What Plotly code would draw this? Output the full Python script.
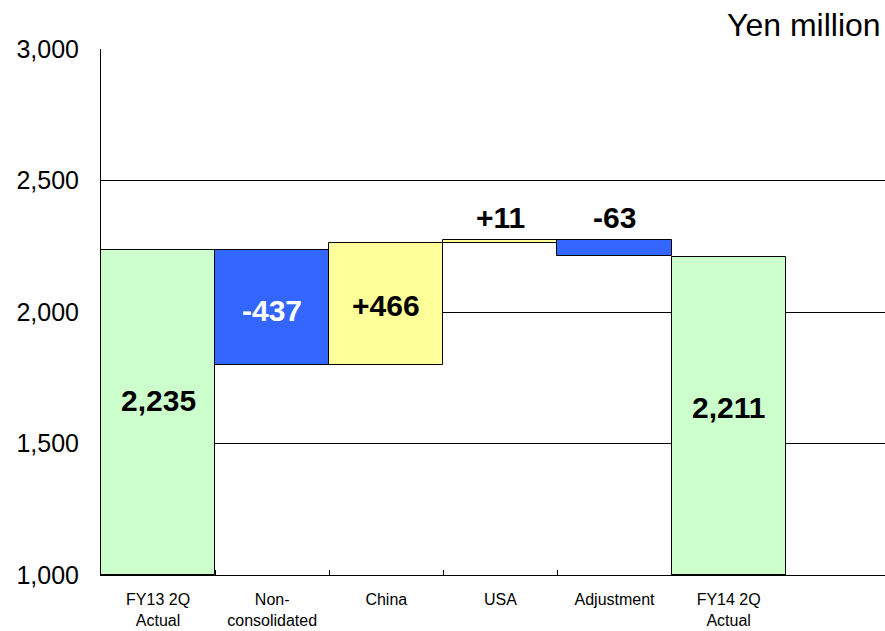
import plotly.graph_objects as go

# ---- data ----
categories = ["FY13 2Q<br>Actual", "Non-<br>consolidated", "China", "USA", "Adjustment", "FY14 2Q<br>Actual"]
start_total = 2235
deltas = [-437, 466, 11, -63]
end_total = 2211
value_labels = ["2,235", "-437", "+466", "+11", "-63", "2,211"]
y_ticks = [1000, 1500, 2000, 2500, 3000]
y_tick_text = ["1,000", "1,500", "2,000", "2,500", "3,000"]
unit_label = "Yen million"

# ---- build floating bars ----
bases, heights = [1000], [start_total - 1000]
running = start_total
for d in deltas:
    nxt = running + d
    bases.append(min(running, nxt))
    heights.append(abs(d))
    running = nxt
bases.append(1000)
heights.append(end_total - 1000)

GREEN, BLUE, YELLOW = "#CCFFCC", "#3366FF", "#FFFF99"
colors = [GREEN] + [BLUE if d < 0 else YELLOW for d in deltas] + [GREEN]
label_colors = ["black", "white", "black", "black", "black", "black"]

all_cats = categories + [" "]

fig = go.Figure()
fig.add_trace(go.Bar(
    x=categories, y=heights, base=bases,
    marker=dict(color=colors, line=dict(color="black", width=1)),
    width=1, hoverinfo="skip", showlegend=False,
))

FONT = "Liberation Sans, Arial, sans-serif"

# value labels
for i, (cat, lab) in enumerate(zip(categories, value_labels)):
    b, h = bases[i], heights[i]
    if h > 100:
        y, anchor = b + h / 2, "middle"
        shift = {0: 12, 5: 8, 1: -3, 2: -2}.get(i, 0)
    else:
        y, anchor = b + h, "bottom"
        shift = 4
    fig.add_annotation(x=cat, y=y, text="<b>" + lab + "</b>", showarrow=False, yanchor=anchor,
                       yshift=shift, font=dict(family=FONT, size=30, color=label_colors[i]))

fig.add_annotation(xref="paper", yref="paper", x=1, y=1, text=unit_label, showarrow=False,
                   xanchor="right", yanchor="middle", yshift=24, xshift=-2,
                   font=dict(family=FONT, size=32, color="black"))

fig.update_layout(
    width=885, height=631,
    margin=dict(l=101, r=0, t=49, b=56),
    paper_bgcolor="white", plot_bgcolor="white",
    bargap=0,
    font=dict(family=FONT, color="black"),
    xaxis=dict(
        type="category", categoryorder="array", categoryarray=all_cats,
        range=[-0.5, 6.37], tickson="boundaries", ticks="inside", ticklen=5,
        tickcolor="black", showline=True, linecolor="black", linewidth=1,
        showgrid=False, tickfont=dict(family=FONT, size=16, color="black"),
        ticklabelstandoff=10,
    ),
    yaxis=dict(
        range=[1000, 3000], tickvals=y_ticks, ticktext=y_tick_text,
        showgrid=True, gridcolor="black", gridwidth=1,
        showline=True, linecolor="black", linewidth=1, ticks="",
        zeroline=False, tickfont=dict(family=FONT, size=25, color="black"),
        ticklabelstandoff=16,
    ),
)

fig.write_html("out.html")
